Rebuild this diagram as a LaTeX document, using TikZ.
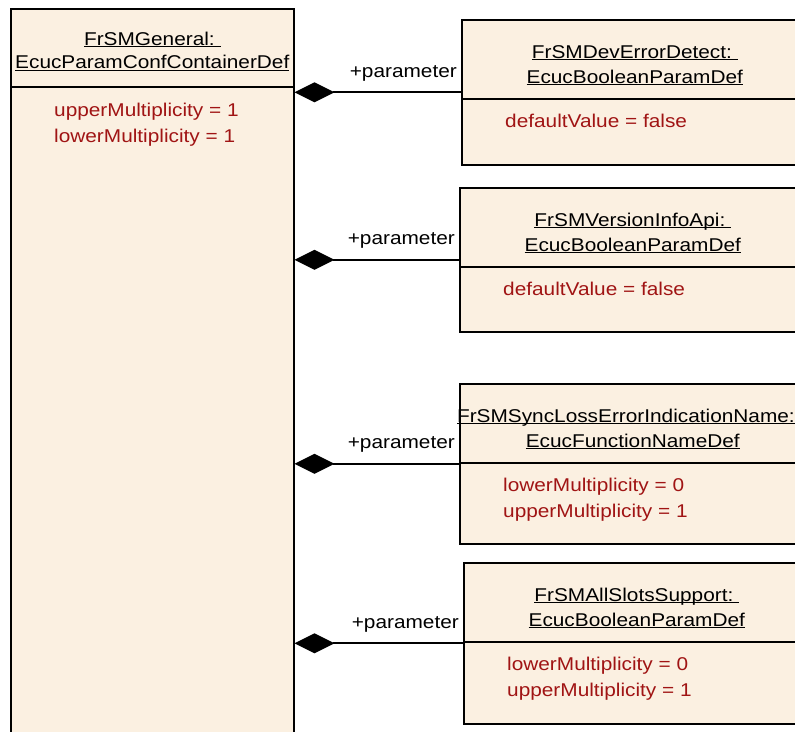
\documentclass[tikz,border=0pt]{standalone}
\usepackage{fontspec}
\setmainfont{Liberation Sans}[FakeStretch=1.125]
\usetikzlibrary{arrows.meta}
\definecolor{boxfill}{RGB}{251,240,225}
\definecolor{attrred}{RGB}{160,20,20}
\newcommand{\uname}[1]{\underline{\smash{#1}}}
\tikzset{
  umlbox/.style={draw, line width=1.6pt, fill=boxfill, anchor=north west, inner sep=0pt, minimum width=346pt},
  sep/.style={line width=1.6pt},
  title/.style={anchor=base, inner sep=0pt, font=\fontsize{18.5}{26}\selectfont},
  attr/.style={anchor=base west, inner sep=0pt, text=attrred, font=\fontsize{18.5}{26}\selectfont},
  role/.style={anchor=base east, inner sep=0pt, font=\fontsize{18.5}{26}\selectfont},
  comp/.style={line width=1.8pt, {Diamond[length=40pt,width=20pt]}-}
}
\begin{document}
\begin{tikzpicture}[x=1pt,y=-1pt]
   \clip (0,0) rectangle (795,731);
   \node[umlbox, minimum width=283pt, minimum height=740pt] (general) at (10,8) {};
   \node[title] (general-obj) at ([yshift=-37pt]general.north) {\uname{FrSMGeneral:\ }};
   \node[title] (general-cls) at ([yshift=-60.5pt]general.north) {\uname{EcucParamConfContainerDef}};
   \draw[sep] ([yshift=-79pt]general.north west) -- ([yshift=-79pt]general.north east);

   \foreach \n/\x/\y/\h/\dx/\obj/\cls in {deverr/461/19/145/0/FrSMDevErrorDetect:/EcucBooleanParamDef,
      verinfo/459/187/144/0/FrSMVersionInfoApi:/EcucBooleanParamDef,
      syncloss/459/383/160/-4/FrSMSyncLossErrorIndicationName:/EcucFunctionNameDef,
      allslots/463/562/161/0/FrSMAllSlotsSupport:/EcucBooleanParamDef}
   {
       \node[umlbox, minimum height=\h pt] (\n) at (\x,\y) {};
       \node[title] (\n-obj) at ([xshift=\dx pt,yshift=-39pt]\n.north) {\uname{\obj\ }};
       \node[title] (\n-cls) at ([yshift=-64pt]\n.north) {\uname{\cls}};
       \draw[sep] ([yshift=-80pt]\n.north west) -- ([yshift=-80pt]\n.north east);
       \draw[comp] (\n.west -| general.east) -- (\n.west);
       \node[role] (\n-role) at ([xshift=-4pt,yshift=15pt]\n.west) {+parameter};
   }

   \foreach \n/\i/\txt in {general/0/upperMultiplicity = 1, general/1/lowerMultiplicity = 1,
      deverr/0/defaultValue = false, verinfo/0/defaultValue = false,
      syncloss/0/lowerMultiplicity = 0, syncloss/1/upperMultiplicity = 1,
      allslots/0/lowerMultiplicity = 0, allslots/1/upperMultiplicity = 1}
   {
       \node[attr] (\n-attr\i) at ([xshift=44pt,yshift=-108pt-\i*26pt]\n.north west) {\txt};
   }
\end{tikzpicture}
\end{document}
